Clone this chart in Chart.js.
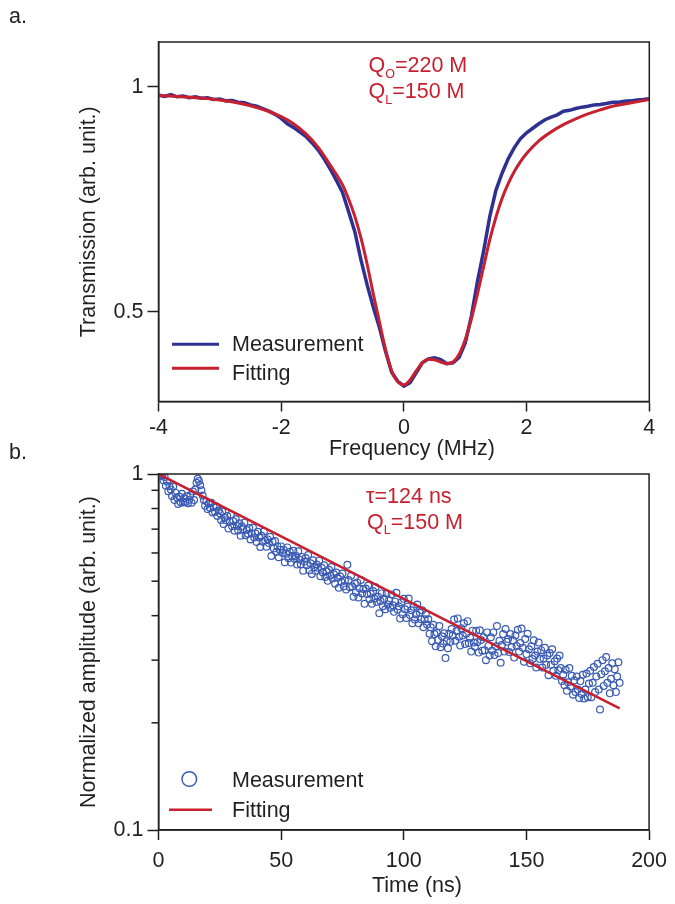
<!DOCTYPE html>
<html>
<head>
<meta charset="utf-8">
<script src="https://cdn.jsdelivr.net/npm/chart.js@4.4.1/dist/chart.umd.min.js"></script>
<style>
  body { margin: 0; background: #fff; }
  #page { position: relative; width: 675px; height: 904px; overflow: hidden; font-family: "Liberation Sans", Arial, sans-serif; }
  canvas { position: absolute; left: 0; }
  #topChart { top: 0; }
  #bottomChart { top: 440px; }
  .panel { position: absolute; left: 9px; font-size: 21.5px; line-height: 21px; color: #231f20; }
</style>
</head>
<body>
<div id="page">
  <canvas id="topChart" width="675" height="470"></canvas>
  <canvas id="bottomChart" width="675" height="464"></canvas>
  <div class="panel" style="top:6px">a.</div>
  <div class="panel" style="top:442px">b.</div>
</div>
<script>
// panel a: transmission vs detuning
const measFreq = [-4, -3.9, -3.8, -3.7, -3.6, -3.5, -3.4, -3.3, -3.2, -3.1,
  -3, -2.9, -2.8, -2.7, -2.6, -2.5, -2.4, -2.3, -2.2, -2.1,
  -2, -1.9, -1.8, -1.7, -1.6, -1.5, -1.4, -1.3, -1.2, -1.1,
  -1, -0.9, -0.8, -0.7, -0.6, -0.5, -0.4, -0.3, -0.2, -0.1,
  0, 0.1, 0.2, 0.3, 0.4, 0.5, 0.6, 0.7, 0.8, 0.9,
  1, 1.1, 1.2, 1.3, 1.4, 1.5, 1.6, 1.7, 1.8, 1.9,
  2, 2.1, 2.2, 2.3, 2.4, 2.5, 2.6, 2.7, 2.8, 2.9,
  3, 3.1, 3.2, 3.3, 3.4, 3.5, 3.6, 3.7, 3.8, 3.9, 4];
const measTrans = [0.982, 0.979, 0.983, 0.978, 0.980, 0.976, 0.978, 0.975, 0.976, 0.972,
  0.973, 0.969, 0.970, 0.966, 0.965, 0.960, 0.957, 0.952, 0.946, 0.939,
  0.930, 0.918, 0.910, 0.900, 0.890, 0.876, 0.860, 0.840, 0.817, 0.792,
  0.765, 0.722, 0.678, 0.615, 0.560, 0.510, 0.465, 0.412, 0.365, 0.345,
  0.334, 0.342, 0.364, 0.386, 0.395, 0.397, 0.393, 0.384, 0.386, 0.398,
  0.430, 0.490, 0.568, 0.635, 0.712, 0.770, 0.808, 0.840, 0.865, 0.885,
  0.898, 0.908, 0.918, 0.927, 0.933, 0.938, 0.946, 0.948, 0.952, 0.955,
  0.957, 0.960, 0.961, 0.963, 0.966, 0.966, 0.968, 0.969, 0.971, 0.972, 0.974];
const fitFreq = [-4, -3.5, -3, -2.5, -2, -1.8, -1.6, -1.4, -1.2, -1,
  -0.9, -0.8, -0.7, -0.6, -0.5, -0.4, -0.3, -0.2, -0.1, 0,
  0.1, 0.2, 0.3, 0.4, 0.5, 0.6, 0.7, 0.8, 0.9, 1,
  1.1, 1.2, 1.3, 1.4, 1.5, 1.6, 1.7, 1.8, 1.9, 2,
  2.2, 2.4, 2.6, 2.8, 3, 3.2, 3.4, 3.6, 3.8, 4];
const fitTrans = [0.981, 0.977, 0.971, 0.958, 0.934, 0.918, 0.896, 0.866, 0.826, 0.782,
  0.750, 0.712, 0.664, 0.606, 0.540, 0.478, 0.416, 0.368, 0.344, 0.337,
  0.348, 0.368, 0.386, 0.394, 0.393, 0.388, 0.384, 0.388, 0.405, 0.438,
  0.484, 0.540, 0.600, 0.660, 0.710, 0.752, 0.785, 0.812, 0.834, 0.852,
  0.880, 0.900, 0.916, 0.929, 0.940, 0.949, 0.957, 0.962, 0.967, 0.972];
const topYTicks = [0.5, 1];

// panel b: ring-down amplitude vs time
const decayTime = [0, 0.5, 1, 1.5, 2, 2.5, 3, 3.5, 4, 4.5,
  5, 5.5, 6, 6.5, 7, 7.5, 8, 8.5, 9, 9.5,
  10, 10.5, 11, 11.5, 12, 12.5, 13, 13.5, 14, 14.5,
  15, 15.5, 16, 16.5, 17, 17.5, 18, 18.5, 19, 19.5,
  20, 20.5, 21, 21.5, 22, 22.5, 23, 23.5, 24, 24.5,
  25, 25.5, 26, 26.5, 27, 27.5, 28, 28.5, 29, 29.5,
  30, 30.5, 31, 31.5, 32, 32.5, 33, 33.5, 34, 34.5,
  35, 35.5, 36, 36.5, 37, 37.5, 38, 38.5, 39, 39.5,
  40, 40.5, 41, 41.5, 42, 42.5, 43, 43.5, 44, 44.5,
  45, 45.5, 46, 46.5, 47, 47.5, 48, 48.5, 49, 49.5,
  50, 50.5, 51, 51.5, 52, 52.5, 53, 53.5, 54, 54.5,
  55, 55.5, 56, 56.5, 57, 57.5, 58, 58.5, 59, 59.5,
  60, 60.5, 61, 61.5, 62, 62.5, 63, 63.5, 64, 64.5,
  65, 65.5, 66, 66.5, 67, 67.5, 68, 68.5, 69, 69.5,
  70, 70.5, 71, 71.5, 72, 72.5, 73, 73.5, 74, 74.5,
  75, 75.5, 76, 76.5, 77, 77.5, 78, 78.5, 79, 79.5,
  80, 80.5, 81, 81.5, 82, 82.5, 83, 83.5, 84, 84.5,
  85, 85.5, 86, 86.5, 87, 87.5, 88, 88.5, 89, 89.5,
  90, 90.5, 91, 91.5, 92, 92.5, 93, 93.5, 94, 94.5,
  95, 95.5, 96, 96.5, 97, 97.5, 98, 98.5, 99, 99.5,
  100, 100.5, 101, 101.5, 102, 102.5, 103, 103.5, 104, 104.5,
  105, 105.5, 106, 106.5, 107, 107.5, 108, 108.5, 109, 109.5,
  110, 110.5, 111, 111.5, 112, 112.5, 113, 113.5, 114, 114.5,
  115, 115.5, 116, 116.5, 117, 117.5, 118, 118.5, 119, 119.5,
  120, 120.5, 121, 121.5, 122, 122.5, 123, 123.5, 124, 124.5,
  125, 125.5, 126, 126.5, 127, 127.5, 128, 128.5, 129, 129.5,
  130, 130.5, 131, 131.5, 132, 132.5, 133, 133.5, 134, 134.5,
  135, 135.5, 136, 136.5, 137, 137.5, 138, 138.5, 139, 139.5,
  140, 140.5, 141, 141.5, 142, 142.5, 143, 143.5, 144, 144.5,
  145, 145.5, 146, 146.5, 147, 147.5, 148, 148.5, 149, 149.5,
  150, 150.5, 151, 151.5, 152, 152.5, 153, 153.5, 154, 154.5,
  155, 155.5, 156, 156.5, 157, 157.5, 158, 158.5, 159, 159.5,
  160, 160.5, 161, 161.5, 162, 162.5, 163, 163.5, 164, 164.5,
  165, 165.5, 166, 166.5, 167, 167.5, 168, 168.5, 169, 169.5,
  170, 170.5, 171, 171.5, 172, 172.5, 173, 173.5, 174, 174.5,
  175, 175.5, 176, 176.5, 177, 177.5, 178, 178.5, 179, 179.5,
  180, 180.5, 181, 181.5, 182, 182.5, 183, 183.5, 184, 184.5,
  185, 185.5, 186, 186.5, 187, 187.5, 188];
const decayAmp = [1.000, 0.998, 0.985, 0.992, 0.960, 0.980, 0.927, 0.953, 0.895, 0.924,
  0.905, 0.868, 0.922, 0.845, 0.885, 0.859, 0.824, 0.864, 0.833, 0.880,
  0.832, 0.855, 0.835, 0.866, 0.828, 0.847, 0.871, 0.830, 0.893, 0.845,
  0.905, 0.945, 0.970, 0.955, 0.930, 0.900, 0.870, 0.845, 0.815, 0.838,
  0.797, 0.826, 0.802, 0.830, 0.780, 0.807, 0.783, 0.812, 0.762, 0.790,
  0.776, 0.743, 0.785, 0.724, 0.753, 0.741, 0.762, 0.703, 0.736, 0.768,
  0.713, 0.737, 0.693, 0.746, 0.714, 0.694, 0.727, 0.671, 0.712, 0.700,
  0.730, 0.673, 0.696, 0.680, 0.705, 0.655, 0.681, 0.707, 0.663, 0.681,
  0.644, 0.688, 0.663, 0.624, 0.671, 0.645, 0.689, 0.651, 0.625, 0.655,
  0.640, 0.666, 0.588, 0.645, 0.618, 0.648, 0.604, 0.626, 0.584, 0.613,
  0.626, 0.601, 0.613, 0.565, 0.597, 0.622, 0.580, 0.605, 0.564, 0.588,
  0.609, 0.577, 0.588, 0.557, 0.607, 0.575, 0.558, 0.585, 0.535, 0.568,
  0.581, 0.554, 0.592, 0.537, 0.561, 0.524, 0.572, 0.547, 0.535, 0.557,
  0.545, 0.571, 0.516, 0.545, 0.529, 0.554, 0.514, 0.533, 0.501, 0.538,
  0.519, 0.548, 0.509, 0.523, 0.492, 0.529, 0.511, 0.479, 0.516, 0.498,
  0.525, 0.484, 0.501, 0.474, 0.556, 0.504, 0.481, 0.518, 0.483, 0.452,
  0.492, 0.465, 0.496, 0.450, 0.477, 0.504, 0.462, 0.475, 0.432, 0.477,
  0.460, 0.486, 0.445, 0.461, 0.432, 0.469, 0.447, 0.481, 0.437, 0.452,
  0.406, 0.440, 0.462, 0.425, 0.446, 0.417, 0.462, 0.430, 0.442, 0.421,
  0.459, 0.428, 0.410, 0.438, 0.464, 0.416, 0.425, 0.393, 0.436, 0.404,
  0.446, 0.417, 0.394, 0.424, 0.447, 0.402, 0.414, 0.381, 0.424, 0.390,
  0.403, 0.430, 0.381, 0.408, 0.391, 0.414, 0.371, 0.391, 0.404, 0.378,
  0.391, 0.356, 0.371, 0.339, 0.377, 0.355, 0.328, 0.358, 0.342, 0.374,
  0.326, 0.350, 0.334, 0.357, 0.304, 0.339, 0.324, 0.356, 0.338, 0.367,
  0.352, 0.390, 0.340, 0.362, 0.393, 0.349, 0.330, 0.369, 0.352, 0.381,
  0.333, 0.356, 0.386, 0.335, 0.347, 0.317, 0.363, 0.336, 0.327, 0.363,
  0.337, 0.315, 0.364, 0.342, 0.319, 0.348, 0.320, 0.300, 0.359, 0.329,
  0.309, 0.348, 0.319, 0.359, 0.310, 0.328, 0.374, 0.314, 0.340, 0.295,
  0.331, 0.355, 0.317, 0.367, 0.338, 0.344, 0.316, 0.355, 0.326, 0.341,
  0.305, 0.352, 0.329, 0.365, 0.317, 0.335, 0.368, 0.325, 0.297, 0.344,
  0.312, 0.356, 0.322, 0.294, 0.328, 0.302, 0.341, 0.309, 0.286, 0.317,
  0.336, 0.302, 0.320, 0.286, 0.303, 0.325, 0.291, 0.309, 0.272, 0.314,
  0.291, 0.322, 0.280, 0.298, 0.271, 0.303, 0.281, 0.309, 0.285, 0.262,
  0.273, 0.255, 0.282, 0.246, 0.260, 0.285, 0.253, 0.271, 0.240, 0.263,
  0.244, 0.270, 0.248, 0.235, 0.262, 0.241, 0.273, 0.234, 0.248, 0.275,
  0.236, 0.258, 0.280, 0.236, 0.259, 0.287, 0.244, 0.270, 0.293, 0.248,
  0.218, 0.274, 0.300, 0.254, 0.279, 0.306, 0.259, 0.285, 0.242, 0.266,
  0.294, 0.255, 0.283, 0.244, 0.270, 0.296, 0.259];
const fitTime = [0, 50, 100, 150, 188];
const fitAmp = [1, 0.668, 0.446, 0.298, 0.2195];
const bottomYTicks = [0.1, 0.2, 0.3, 0.4, 0.5, 0.6, 0.7, 0.8, 0.9, 1];
const bottomYLabels = [0.1, 1];

const INK = "#231f20";
const BLUE = "#2e3192";
const RED = "#c8202f";
const DOT = "#3a5bb4";
const FONT = "'Liberation Sans', Arial, Helvetica, sans-serif";
const FS = 21.5;

Chart.defaults.font.family = FONT;
Chart.defaults.font.size = FS;
Chart.defaults.color = INK;

const toPoints = (xs, ys) => xs.map((x, i) => ({ x: x, y: ys[i] }));

function drawRuns(ctx, x, y, runs, color, baseline) {
  ctx.save();
  ctx.fillStyle = color;
  ctx.textAlign = "left";
  ctx.textBaseline = baseline || "alphabetic";
  runs.forEach(r => {
    ctx.font = r.size + "px " + FONT;
    ctx.fillText(r.text, x, y + (r.dy || 0));
    x += ctx.measureText(r.text).width;
  });
  ctx.restore();
}

function drawCentered(ctx, text, x, y) {
  ctx.save();
  ctx.fillStyle = INK;
  ctx.font = FS + "px " + FONT;
  ctx.textAlign = "center";
  ctx.textBaseline = "middle";
  ctx.fillText(text, x, y);
  ctx.restore();
}

const framePlugin = {
  id: "frame",
  afterDraw(chart) {
    const a = chart.chartArea, ctx = chart.ctx;
    ctx.save();
    ctx.strokeStyle = INK;
    ctx.lineWidth = 1.5;
    ctx.strokeRect(a.left, a.top, a.right - a.left, a.bottom - a.top);
    ctx.restore();
  }
};

const topDecor = {
  id: "topDecor",
  afterDraw(chart) {
    const ctx = chart.ctx;
    drawRuns(ctx, 368.5, 72.3, [{ text: "Q", size: FS }, { text: "O", size: 12.5, dy: 6 }, { text: "=220 M", size: FS }], RED);
    drawRuns(ctx, 368.5, 98.3, [{ text: "Q", size: FS }, { text: "L", size: 12.5, dy: 6 }, { text: "=150 M", size: FS }], RED);
    ctx.save();
    ctx.lineWidth = 3;
    ctx.strokeStyle = BLUE;
    ctx.beginPath(); ctx.moveTo(172, 344.3); ctx.lineTo(219, 344.3); ctx.stroke();
    ctx.strokeStyle = RED;
    ctx.beginPath(); ctx.moveTo(172, 368.3); ctx.lineTo(219, 368.3); ctx.stroke();
    ctx.restore();
    drawRuns(ctx, 232, 351, [{ text: "Measurement", size: FS }], INK);
    drawRuns(ctx, 232, 380, [{ text: "Fitting", size: FS }], INK);
    drawCentered(ctx, "Frequency (MHz)", 412, 449);
  }
};

const bottomDecor = {
  id: "bottomDecor",
  afterDraw(chart) {
    const ctx = chart.ctx, a = chart.chartArea, y = chart.scales.y;
    // unlabelled minor ticks of the log axis are shorter
    ctx.save();
    ctx.strokeStyle = INK;
    ctx.lineWidth = 1.5;
    bottomYTicks.filter(v => !bottomYLabels.includes(v)).forEach(v => {
      const py = y.getPixelForValue(v);
      ctx.beginPath(); ctx.moveTo(a.left - 7, py); ctx.lineTo(a.left, py); ctx.stroke();
    });
    ctx.restore();
    drawRuns(ctx, 366, 63, [{ text: "τ=124 ns", size: FS }], RED);
    drawRuns(ctx, 367, 89, [{ text: "Q", size: FS }, { text: "L", size: 12.5, dy: 5 }, { text: "=150 M", size: FS }], RED);
    ctx.save();
    ctx.lineWidth = 1.5;
    ctx.strokeStyle = DOT;
    ctx.beginPath(); ctx.arc(189.3, 339, 7.3, 0, Math.PI * 2); ctx.stroke();
    ctx.lineWidth = 2.5;
    ctx.strokeStyle = RED;
    ctx.beginPath(); ctx.moveTo(169, 369.7); ctx.lineTo(212, 369.7); ctx.stroke();
    ctx.restore();
    drawRuns(ctx, 232, 346.7, [{ text: "Measurement", size: FS }], INK);
    drawRuns(ctx, 232, 376.7, [{ text: "Fitting", size: FS }], INK);
    drawCentered(ctx, "Time (ns)", 417, 446);
  }
};

const xGrid = { drawOnChartArea: false, drawTicks: true, tickLength: 10, tickWidth: 1.5, tickColor: INK };
const yGrid = { drawOnChartArea: false, drawTicks: true, tickLength: 11, tickWidth: 1.5, tickColor: INK };
const axisBorder = { display: true, color: INK, width: 1.5 };

new Chart(document.getElementById("topChart"), {
  type: "line",
  data: {
    datasets: [
      { label: "Fitting", data: toPoints(fitFreq, fitTrans), borderColor: RED, borderWidth: 3,
        pointRadius: 0, cubicInterpolationMode: "monotone", order: 0 },
      { label: "Measurement", data: toPoints(measFreq, measTrans), borderColor: BLUE, borderWidth: 3.5,
        pointRadius: 0, tension: 0, order: 1 }
    ]
  },
  options: {
    responsive: false,
    animation: false,
    events: [],
    layout: { padding: { left: 0, right: 25.7, top: 42, bottom: 0 } },
    plugins: { legend: { display: false }, tooltip: { enabled: false } },
    scales: {
      x: {
        type: "linear", min: -4, max: 4,
        grid: xGrid, border: axisBorder,
        ticks: { stepSize: 2, padding: 4, maxRotation: 0, autoSkip: false, callback: v => String(v) },
        afterFit(s) { s.height = 68.5; }
      },
      y: {
        min: 0.3, max: 1.1,
        grid: yGrid, border: axisBorder,
        afterBuildTicks(s) { s.ticks = topYTicks.map(v => ({ value: v })); },
        ticks: { padding: 4, callback: v => String(v) },
        title: { display: true, text: "Transmission (arb. unit.)", padding: { top: 76, bottom: 0 } },
        afterFit(s) { s.width = 158.5; }
      }
    }
  },
  plugins: [framePlugin, topDecor]
});

new Chart(document.getElementById("bottomChart"), {
  type: "scatter",
  data: {
    datasets: [
      { label: "Fitting", data: toPoints(fitTime, fitAmp), showLine: true, borderColor: RED, borderWidth: 2.5,
        pointRadius: 0, order: 0 },
      { label: "Measurement", data: toPoints(decayTime, decayAmp), showLine: false, pointStyle: "circle",
        pointRadius: 3.4, pointBorderWidth: 1.2, pointBorderColor: DOT, pointBackgroundColor: "rgba(255,255,255,0)", order: 1 }
    ]
  },
  options: {
    responsive: false,
    animation: false,
    events: [],
    layout: { padding: { left: 0, right: 19.3, top: 34, bottom: 0 } },
    plugins: { legend: { display: false }, tooltip: { enabled: false } },
    scales: {
      x: {
        type: "linear", min: 0, max: 200,
        grid: xGrid, border: axisBorder,
        ticks: { stepSize: 50, padding: 8, maxRotation: 0, autoSkip: false, callback: v => String(v) },
        afterFit(s) { s.height = 74; }
      },
      y: {
        type: "logarithmic", min: 0.1, max: 1,
        border: axisBorder,
        grid: { drawOnChartArea: false, drawTicks: true, tickLength: 11, tickWidth: 1.5,
          tickColor: c => (bottomYLabels.includes(c.tick.value) ? INK : "rgba(0,0,0,0)") },
        afterBuildTicks(s) { s.ticks = bottomYTicks.map(v => ({ value: v })); },
        ticks: { padding: 4, autoSkip: false, callback: v => (bottomYLabels.includes(v) ? String(v) : "") },
        title: { display: true, text: "Normalized amplitude (arb. unit.)", padding: { top: 76, bottom: 0 } },
        afterFit(s) { s.width = 158.5; }
      }
    }
  },
  plugins: [framePlugin, bottomDecor]
});
</script>
</body>
</html>
